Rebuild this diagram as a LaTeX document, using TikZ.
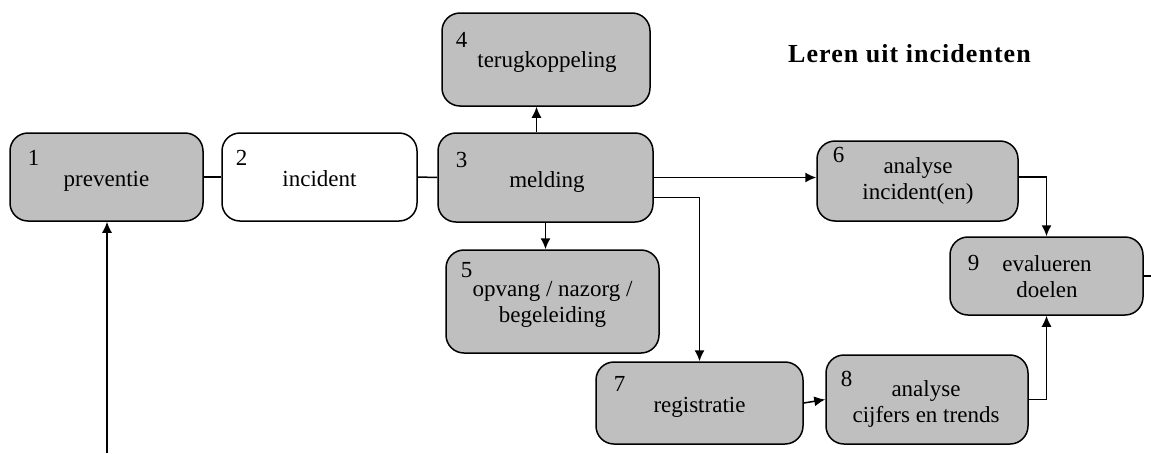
\documentclass[tikz,border=0pt]{standalone}
\usepackage{fontspec}
\setmainfont{Liberation Serif}
\usetikzlibrary{arrows.meta}

\begin{document}
\begin{tikzpicture}[x=1pt,y=-1pt,line width=1.5pt,>={Latex[length=11pt,width=10pt]},
        font=\fontsize{23}{26}\selectfont,
        stap/.style={draw,rounded corners=18pt,fill=black!25,inner sep=0pt},
        nr/.style={anchor=base west,inner sep=0pt},
        txt/.style={anchor=base,inner sep=0pt,align=center}]
            \useasboundingbox (0,0) rectangle (1151,453);

            % title
            \node[anchor=base,font=\fontsize{26}{30}\selectfont\bfseries\addfontfeatures{LetterSpace=4}] (titel) at (909.5,62) {Leren uit incidenten};

            % the boxes
            \node[stap,minimum width=193,minimum height=88] (b1) at (106.5,177) {};
            \node[stap,fill=white,minimum width=195,minimum height=88] (b2) at (319.5,177) {};
            \node[stap,minimum width=215,minimum height=89] (b3) at (545.5,177.5) {};
            \node[stap,minimum width=208,minimum height=93] (b4) at (546,59.5) {};
            \node[stap,minimum width=213,minimum height=103] (b5) at (552.5,301.5) {};
            \node[stap,minimum width=201,minimum height=80] (b6) at (917.5,181) {};
            \node[stap,minimum width=207,minimum height=82] (b7) at (699.5,403) {};
            \node[stap,minimum width=202,minimum height=89] (b8) at (927,399.5) {};
            \node[stap,minimum width=193,minimum height=78] (b9) at (1046.5,276) {};

            % numbers
            \node[nr] (n1) at (27,165) {1};
            \node[nr] (n2) at (235,165) {2};
            \node[nr] (n3) at (455,167) {3};
            \node[nr] (n4) at (455,47) {4};
            \node[nr] (n5) at (460,277) {5};
            \node[nr] (n6) at (832,162) {6};
            \node[nr] (n7) at (613,391) {7};
            \node[nr] (n8) at (840,386) {8};
            \node[nr] (n9) at (967,270) {9};

            % text in the boxes
            \node[txt] (t1) at (106.5,186) {preventie};
            \node[txt] (t2) at (319.5,186) {incident};
            \node[txt] (t3) at (547,187) {melding};
            \node[txt] (t4) at (547,67) {terugkoppeling};
            \node[txt] (t5) at (552.5,322) {opvang / nazorg /\\begeleiding};
            \node[txt] (t6) at (918,199) {analyse\\incident(en)};
            \node[txt] (t7) at (699.5,412) {registratie};
            \node[txt] (t8) at (926,422) {analyse\\cijfers en trends};
            \node[txt] (t9) at (1047,297) {evalueren\\doelen};

            % free ends
            \coordinate (terug) at (107,453);
            \coordinate (verder) at (1151,276);

            % connectors
            \draw (b1.east) -- (b2.west);
            \draw (b2.east) -- (b3.west);
            \draw[->] ([xshift=-9pt]b3.north) -- ([xshift=-9pt]b3.north |- b4.south);
            \draw[->] (b3.south) -- (b3.south |- b5.north);
            \draw[->] (b3.east) -- (b3.east -| b6.west);
            \draw[->] ([yshift=-20pt]b3.east) -| (b7.north);
            \draw[->] (b7.east) -- (b8.west);
            \draw[->] ([yshift=4pt]b6.east) -| (b9.north);
            \draw[->] (b8.east) -| (b9.south);
            \draw (b9.east) -- (verder);
            \draw[->] (terug) -- (terug |- b1.south);
        \end{tikzpicture}
\end{document}
